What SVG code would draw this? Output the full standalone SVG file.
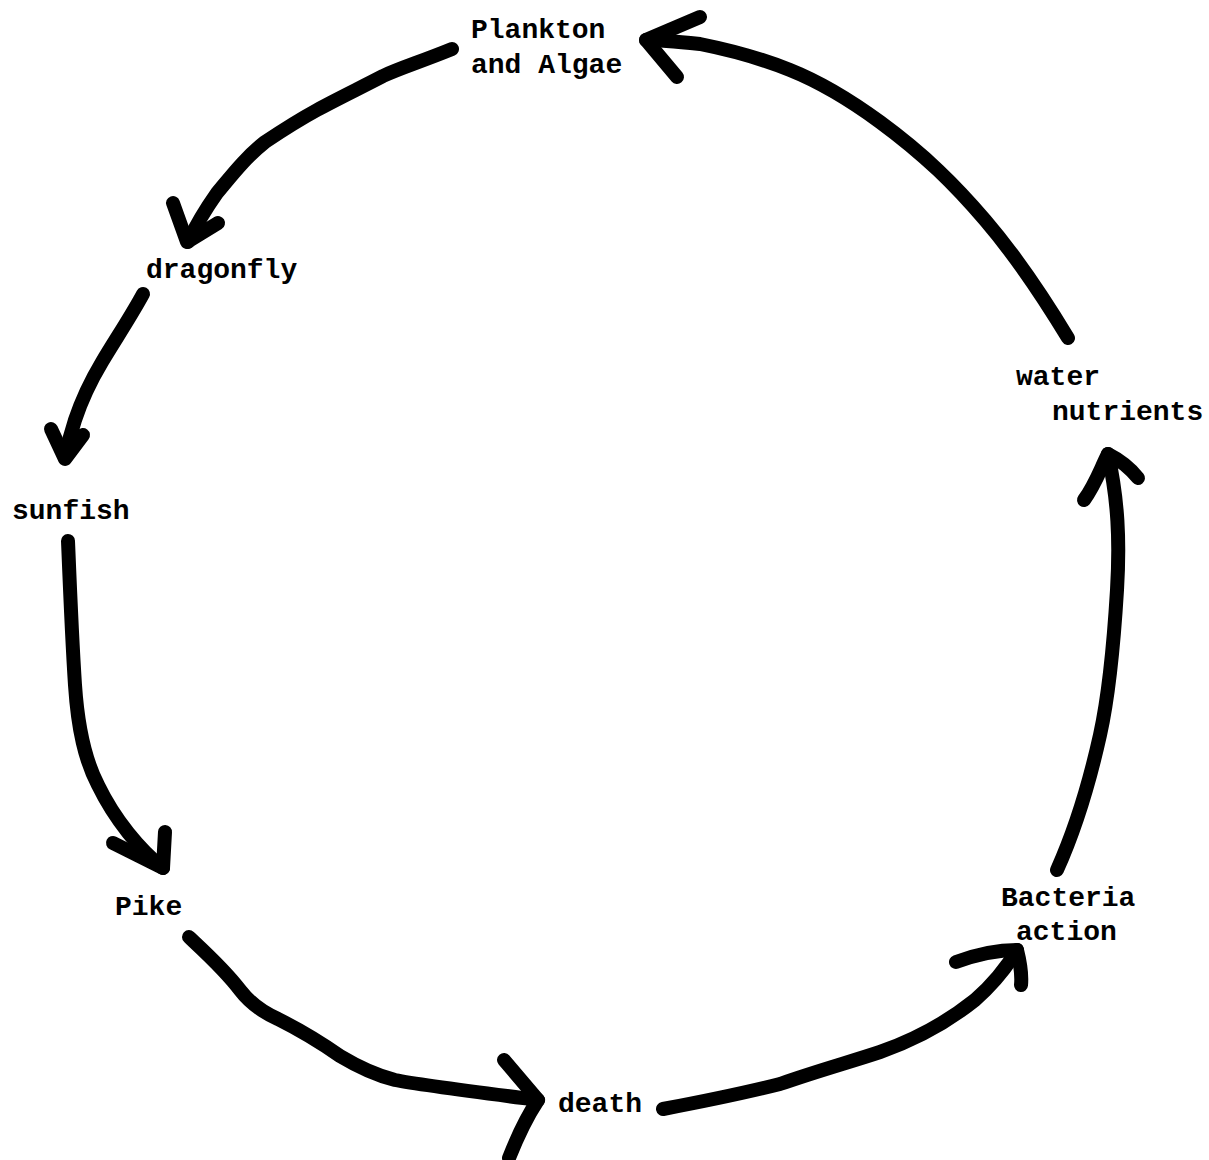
<svg xmlns="http://www.w3.org/2000/svg" width="1209" height="1160" viewBox="0 0 1209 1160">
<style>
.lbl{font-family:"Liberation Mono","DejaVu Sans Mono",monospace;font-weight:bold;font-size:28px;fill:#000}
.arr{fill:none;stroke:#000;stroke-width:14;stroke-linecap:round;stroke-linejoin:round}
</style>
<rect width="1209" height="1160" fill="#fff"/>
<g id="nodes">
<g id="plankton"><text class="lbl" x="471" y="38">Plankton</text><text class="lbl" x="471" y="73">and Algae</text></g>
<g id="dragonfly"><text class="lbl" x="146" y="278">dragonfly</text></g>
<g id="sunfish"><text class="lbl" x="12" y="519">sunfish</text></g>
<g id="pike"><text class="lbl" x="115" y="915">Pike</text></g>
<g id="death"><text class="lbl" x="558" y="1112">death</text></g>
<g id="bacteria"><text class="lbl" x="1001" y="906">Bacteria</text><text class="lbl" x="1016" y="940">action</text></g>
<g id="water"><text class="lbl" x="1016" y="385">water</text><text class="lbl" x="1052" y="420">nutrients</text></g>
</g>
<g id="connectors">
<path class="arr" d="M452,49 C420,62 400,68 383,76 C360,88 335,100 317,110 C295,122 280,132 265,142 C245,158 232,175 217,193 C205,210 196,225 188,242"/>
<path class="arr" d="M173,203 L187,242 L218,223"/>
<path class="arr" d="M143,294 C130,318 115,340 102,362 C90,382 80,405 75,420 C70,435 67,448 65,458"/>
<path class="arr" d="M51,429 L65,459 L83,435"/>
<path class="arr" d="M68,541 C70,590 72,640 75,685 C78,730 85,760 98,785 C115,820 140,850 163,868"/>
<path class="arr" d="M113,843 L163,868 L165,832"/>
<path class="arr" d="M189,937 C205,952 225,970 240,990 C250,1003 262,1012 278,1019 C300,1030 320,1042 340,1056 C360,1068 375,1075 395,1080 C420,1085 460,1090 538,1100"/>
<path class="arr" d="M504,1060 L538,1100 C528,1115 520,1130 509,1158"/>
<path class="arr" d="M663,1109 C700,1102 740,1094 780,1084 C820,1070 850,1062 880,1052 C920,1038 950,1020 975,1000 C992,985 1005,970 1017,950"/>
<path class="arr" d="M956,962 C975,955 995,950 1017,950 C1020,962 1022,975 1021,985"/>
<path class="arr" d="M1057,870 C1075,830 1090,780 1100,735 C1110,690 1114,640 1117,590 C1120,540 1118,500 1108,454"/>
<path class="arr" d="M1084,500 C1095,485 1100,470 1108,454 C1120,460 1130,468 1138,478"/>
<path class="arr" d="M1068,338 C1045,300 1015,255 985,220 C955,185 925,155 880,122 C850,100 820,82 790,70 C760,58 730,50 700,44 C680,42 660,40 646,40"/>
<path class="arr" d="M700,17 L646,40 L677,77"/>
</g>
</svg>
